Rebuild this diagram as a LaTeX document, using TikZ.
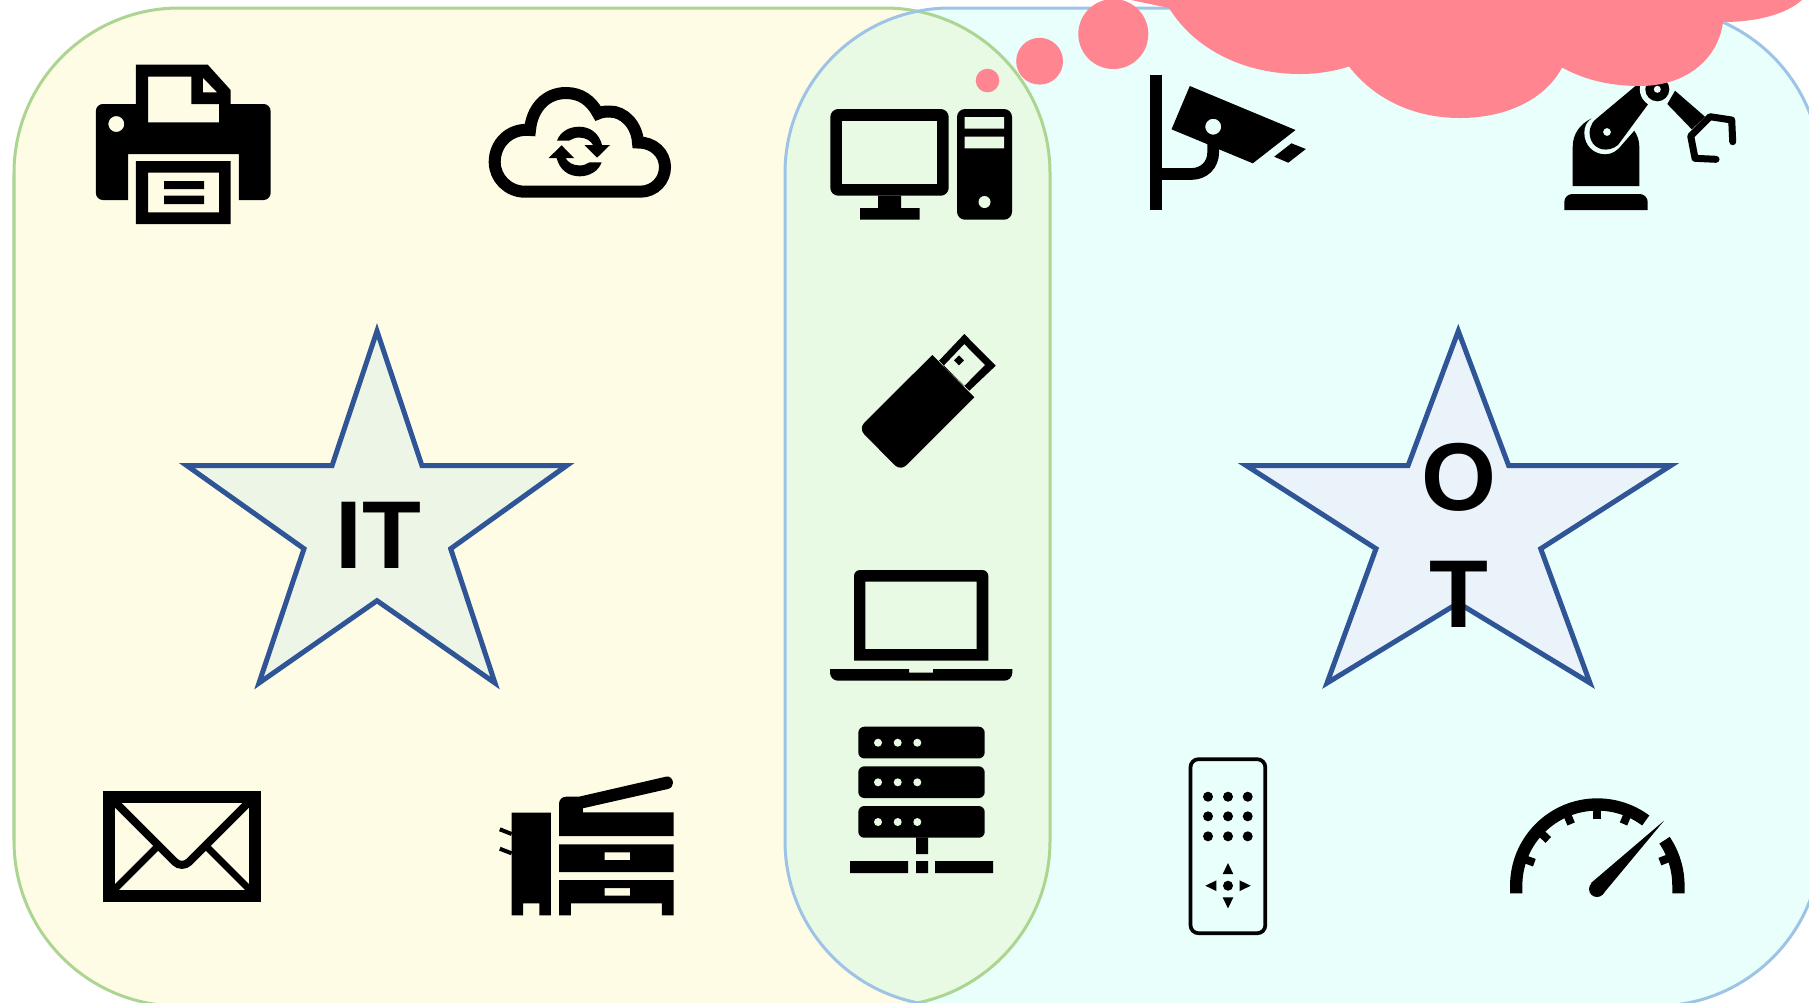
\documentclass[tikz,border=0pt]{standalone}
\usepackage{xcolor}
\usepackage{fontspec}
\setmainfont{Liberation Sans}
\definecolor{areayellow}{RGB}{255,252,230}
\definecolor{areacyan}{RGB}{233,255,252}
\definecolor{areamix}{RGB}{232,250,227}
\definecolor{linegreen}{RGB}{172,213,146}
\definecolor{lineblue}{RGB}{157,195,230}
\definecolor{starblue}{RGB}{47,85,151}
\definecolor{starit}{RGB}{237,245,231}
\definecolor{starot}{RGB}{234,242,250}
\definecolor{cloudpink}{RGB}{255,133,145}

\begin{document}
\begin{tikzpicture}[
  x=0.01cm, y=-0.01cm,
  area/.style={rounded corners=1.65cm},
  arealine/.style={area, line width=0.03cm},
  starline/.style={draw=starblue, line width=0.05cm, miter limit=10},
  bigtext/.style={font=\fontsize{27.4}{33.2}\selectfont\bfseries, inner sep=0pt, align=center},
  icon/.style={fill=black, even odd rule},
  cloudfill/.style={fill=cloudpink}
]
\path[use as bounding box] (0,0) rectangle (1809,1002);
\clip (0,0) rectangle (1809,1002);

\fill[area, areayellow] (14,8) rectangle (1050,1006);
\fill[area, areacyan] (785,8) rectangle (1821,1006);
\begin{scope}
  \clip[area] (14,8) rectangle (1050,1006);
  \fill[area, areamix] (785,8) rectangle (1821,1006);
\end{scope}
\draw[arealine, linegreen] (14,8) rectangle (1050,1006);
\draw[arealine, lineblue] (785,8) rectangle (1821,1006);

\draw[starline, fill=starit] (377,331) -- (422,465.7) -- (566.5,465.7) -- (450.7,548.7) -- (495,683) -- (377,600.7) -- (259,683) -- (304,548.7) -- (187,465.7) -- (332,465.7) -- cycle;
\draw[starline, fill=starot] (1458.3,331) -- (1508.7,465.7) -- (1670.5,465.7) -- (1540.7,548.7) -- (1590,683) -- (1458.3,603) -- (1327,683) -- (1376,548.7) -- (1246.5,465.7) -- (1408,465.7) -- cycle;
\node[bigtext] (itlabel) at (378.5,535.5) {IT};
\node[bigtext] (otlabel) at (1458.5,535) {O\\T};

% printer
\fill[icon] (135.9,104) -- (135.9,64.7) -- (207.8,64.7) -- (230.6,90) -- (230.6,104) [rounded corners=0.07cm] -- (270.6,104) -- (270.6,200) [sharp corners] -- (238.8,200) -- (238.8,154) -- (128.2,154) -- (128.2,200) [rounded corners=0.07cm] -- (95.9,200) -- (95.9,104) [sharp corners] -- cycle
  (148.2,76.7) -- (191.4,76.7) -- (191.4,104) -- (219.2,104) -- (219.2,122.3) -- (148.2,122.3) -- cycle
  (202.9,77.7) -- (202.9,92.3) -- (217.1,92.3) -- cycle
  (116.3,124) circle (8);
\fill[icon] (135.9,161) rectangle (230.6,224) (148.2,172.7) rectangle (219.2,212.3)
  (164,181) rectangle (204,189) (164,195.7) rectangle (204,204);

% cloud with sync arrows
\draw[line width=0.12cm, line join=miter, miter limit=2] (525,191.7) -- (640,191.7) .. controls (655,191.7) and (665,180) .. (665,167) .. controls (665,153) and (653,142) .. (638,142.5) .. controls (637,125) and (624,111) .. (609,111.5) .. controls (605,111.5) and (601,112) .. (598,113.5) .. controls (591,100) and (580,93) .. (566,93) .. controls (546,93) and (532,108) .. (530,130) .. controls (510,128) and (494.7,143) .. (494.7,162) .. controls (494.7,178) and (508,191.7) .. (525,191.7) -- cycle;
\foreach \a in {0,180} {
  \fill[rotate around={\a:(579.3,151.5)}] (557,140.7) .. controls (560,132) and (569,126.7) .. (579,126.7) .. controls (590,126.7) and (599,133) .. (602,145) -- (610,145) -- (597,157.7) -- (584.5,145) -- (593,145) .. controls (591,141) and (586,137.5) .. (579,137.5) .. controls (575,137.5) and (572,139) .. (569,140.7) -- cycle;
}

% mail
\draw[line width=0.12cm, fill=areayellow] (108.8,796.5) rectangle (255.2,895.7);
\draw[line width=0.08cm, rounded corners=0.1cm] (111,798) -- (182,869) -- (253,798);
\draw[line width=0.07cm] (110,894) -- (160,844) (204,844) -- (254,894);

% copier
\fill[icon] (511.6,812.7) -- (550.8,812.7) -- (550.8,915.3) -- (539.3,915.3) -- (539.3,903.3) -- (523,903.3) -- (523,915.3) -- (511.6,915.3) -- cycle;
\draw[line width=0.04cm] (499.8,829.3) -- (511.6,834) (499.8,848.7) -- (511.6,853.3);
\fill[icon] (559,836) [rounded corners=0.07cm] -- (559,796.7) [sharp corners] -- (578.8,796.7) -- (665.8,776.7) .. controls (670,775.7) and (673,779) .. (673,783) .. controls (673,786) and (671,788.3) .. (667.8,789) -- (582.8,808.3) -- (582.8,812.3) -- (673.7,812.3) -- (673.7,836) -- cycle;
\fill[icon] (559,844.3) rectangle (673.7,872) (604.5,852.3) rectangle (630.2,860);
\fill[icon] (559,880) -- (673.7,880) -- (673.7,915.3) -- (661.8,915.3) -- (661.8,903.3) -- (570.9,903.3) -- (570.9,915.3) -- (559,915.3) -- cycle (604.5,888) rectangle (630.2,895.7);

% computer
\fill[icon, rounded corners=0.08cm] (830.3,109) rectangle (948.7,195.7);
\fill[areamix] (842,121) rectangle (937,184);
\fill (878,195.7) rectangle (901.2,208) (860,208) rectangle (919.5,219.7);
\fill[icon, rounded corners=0.08cm] (957,109) rectangle (1012,219.7);
\fill[areamix] (964.6,117) rectangle (1004.2,128.7) (964.6,136.7) rectangle (1004.2,148.3) (984.5,202) circle (6);

% usb stick
\fill (932.3,355) -- (974.3,397.3) [rounded corners=0.08cm] -- (900.5,471) -- (858.5,428.5) [sharp corners] -- cycle;
\fill[icon] (939,360.7) -- (964.3,334) -- (995.7,365.7) -- (969.3,390.7) -- cycle (943.3,366) -- (964.3,344) -- (985,365) -- (964.3,386) -- cycle;
\fill (959,355.3) -- (964,360.3) -- (959,365.3) -- (954,360.3) -- cycle;

% laptop
\fill[icon] (854,660.7) [rounded corners=0.06cm] -- (854,570) -- (988.3,570) [sharp corners] -- (988.3,660.7) -- cycle (865.3,581.7) rectangle (976.7,649);
\fill (830,669) -- (909,669) -- (909,672.7) -- (933,672.7) -- (933,669) -- (1012.3,669) [rounded corners=0.08cm] -- (1012.3,680.7) -- (830,680.7) [sharp corners] -- cycle;

% server rack
\foreach \y/\h in {726.7/742.7, 766.3/782.3, 806/822} {
  \fill[rounded corners=0.06cm] (858.3,\y) rectangle (984.7,\y+31.7);
  \foreach \x in {878,897.7,917.3}
    \fill[areamix] (\x,\h) circle (4);
}
\fill (916,837.3) rectangle (928,854) (850,861) rectangle (908,873) (916,861) rectangle (928,873) (935,861) rectangle (993,873);

% camera
\fill (1149.8,75.3) rectangle (1161.9,210);
\fill[icon] (1189.8,86) -- (1295.5,130) -- (1252.8,163.3) -- (1219,149.3) -- (1207.7,144.3) -- (1171.5,129.3) -- cycle (1213.2,126.7) circle (8);
\fill (1291.4,143.3) -- (1305.8,149) -- (1288.3,162.7) -- (1274.2,156.7) -- cycle;
\draw[line width=0.117cm] (1213.2,143) -- (1213.2,152) .. controls (1213.2,165) and (1204,174) .. (1191,174) -- (1160,174);

% robot arm
\fill[rounded corners=0.08cm] (1564.3,210) -- (1564.3,194) -- (1647.7,194) [sharp corners] -- (1647.7,210) -- cycle;
\fill (1572.7,186) -- (1572.7,146.7) .. controls (1572.7,134) and (1580,124) .. (1591.7,118.3) .. controls (1586,122) and (1584.3,127) .. (1584.3,133) .. controls (1584.3,146) and (1594,154.3) .. (1605,154.3) .. controls (1612,154.3) and (1617,151) .. (1621.7,145) -- (1634.3,130.7) .. controls (1637,135) and (1639.3,140) .. (1639.3,146.7) -- (1639.3,186) -- cycle;
\fill[icon] (1596,119) -- (1645,78) -- (1657,89) -- (1648,104.3) -- (1618,145) .. controls (1608,153) and (1595,150) .. (1591,140) .. controls (1588,132) and (1590,124) .. (1596,119) -- cycle (1607,132) circle (4);
\fill[areacyan] (1657.3,89.3) circle (17.5);
\fill (1657.3,89.3) circle (12);
\fill[areacyan] (1657.3,89.3) circle (3.5);
\fill (1675,90.7) -- (1705,116.7) -- (1691.7,129.3) -- (1667.3,104) -- cycle;
\draw[line width=0.07cm, line cap=round, line join=round] (1732.7,141.7) -- (1731.7,120) -- (1710,116.7) -- (1690.7,136) -- (1695,158.3) -- (1716,159.3);

% remote control
\draw[line width=0.037cm, rounded corners=0.08cm] (1190.5,759.2) rectangle (1265.3,933.2);
\foreach \y in {796.7,816.3,836.3}
  \foreach \x in {1208,1228,1247.7}
    \fill (\x,\y) circle (5);
\fill (1228,885.7) circle (5);
\foreach \a in {0,90,180,270}
  \fill[rotate around={\a:(1228,885.7)}] (1228,863) -- (1233.3,874) -- (1222.7,874) -- cycle;

% gauge
\draw[line width=0.123cm] (1516.2,893.3) -- (1516.2,885.6) arc[start angle=180, end angle=53.4, radius=0.811cm];
\draw[line width=0.123cm] (1678.4,893.3) -- (1678.4,885.6) arc[start angle=0, end angle=34, radius=0.811cm];
\foreach \a in {160,137,113,90,67,21}
  \draw[line width=0.08cm] ({1597.3+80*cos(\a)},{885.6-80*sin(\a)}) -- ({1597.3+67*cos(\a)},{885.6-67*sin(\a)});
\fill (1591,883) -- (1664,820.7) -- (1603,894) -- cycle;
\fill (1597,889) circle (8);

% thought cloud
\fill[cloudfill] (987.5,80.5) circle (11.8);
\fill[cloudfill] (1039.6,61.2) circle (23.4);
\fill[cloudfill] (1113.3,34) circle (35);
\fill[cloudfill] (1125,-5) -- (1131,0) -- (1169,8) .. controls (1195,50) and (1245,74) .. (1300,74) .. controls (1318,74) and (1335,71) .. (1349,66.5) .. controls (1375,100) and (1415,118) .. (1460,118) .. controls (1505,118) and (1545,100) .. (1562,67.5) .. controls (1585,80) and (1610,86) .. (1640,86) .. controls (1685,86) and (1718,60) .. (1723,22) .. controls (1755,22) and (1785,15) .. (1802,0) -- (1802,-5) -- cycle;
\end{tikzpicture}
\end{document}
